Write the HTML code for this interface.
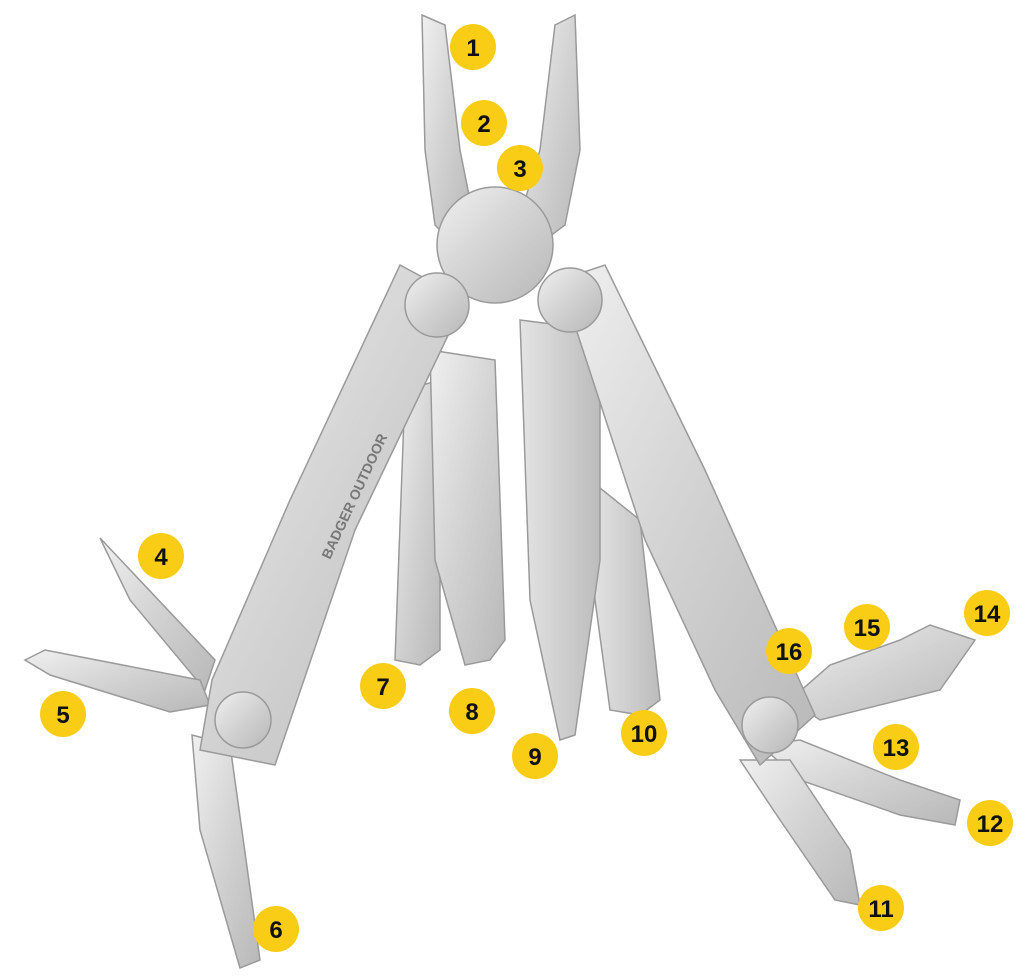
<!DOCTYPE html>
<html><head><meta charset="utf-8"><style>
html,body{margin:0;padding:0;background:#fff;width:1024px;height:980px;overflow:hidden}
svg{display:block}
.n{font-family:"Liberation Sans Narrow","Liberation Sans",sans-serif;font-weight:bold;font-size:24px;fill:#111;text-anchor:middle}
</style></head><body>
<svg width="1024" height="980" viewBox="0 0 1024 980" xmlns="http://www.w3.org/2000/svg">
<defs>
<linearGradient id="g" x1="0" y1="0" x2="1" y2="1">
<stop offset="0" stop-color="#f0f0f0"/><stop offset="0.5" stop-color="#d2d2d2"/><stop offset="1" stop-color="#b8b8b8"/>
</linearGradient>
<linearGradient id="g2" x1="0" y1="0" x2="1" y2="0">
<stop offset="0" stop-color="#e4e4e4"/><stop offset="1" stop-color="#bcbcbc"/>
</linearGradient>
</defs>
<g stroke="#9a9a9a" stroke-width="1.5" fill="url(#g)">
<polygon points="100,538 215,660 205,690 130,600"/>
<polygon points="25,660 45,650 200,680 210,705 170,712 50,675"/>
<polygon points="192,735 230,745 260,960 240,968 200,830"/>
<polygon points="790,700 830,665 900,640 930,625 975,640 940,690 820,720"/>
<polygon points="760,745 800,740 900,780 960,800 955,825 900,815 800,780"/>
<polygon points="740,760 790,760 850,850 860,905 835,900 780,820"/>
<polygon points="405,390 440,380 440,650 420,665 395,660"/>
<polygon points="430,350 495,360 505,640 490,660 465,665 435,560"/>
<polygon points="590,480 640,520 660,700 640,715 610,710 595,600" fill="url(#g2)"/>
<polygon points="520,320 600,330 600,560 575,735 560,740 530,600" fill="url(#g2)"/>
<polygon points="400,265 465,300 355,530 275,765 200,750 212,680 290,500"/>
<polygon points="560,280 605,265 705,470 815,715 760,765 715,690 645,540"/>
<polygon points="422,15 445,25 460,150 470,200 450,240 435,225 425,150"/>
<polygon points="575,15 555,25 540,150 525,200 545,240 565,225 580,150"/>
<circle cx="495" cy="245" r="58"/>
<circle cx="437" cy="305" r="32"/>
<circle cx="570" cy="300" r="32"/>
<circle cx="243" cy="720" r="28"/>
<circle cx="770" cy="725" r="28"/>
</g>
<text x="330" y="560" transform="rotate(-65 330 560)" font-family="Liberation Sans,sans-serif" font-size="14" font-weight="bold" fill="#777">BADGER OUTDOOR</text>
<g fill="#f9cd15">
<circle cx="473" cy="47" r="23"/><circle cx="484" cy="123" r="23"/><circle cx="520" cy="168" r="23"/>
<circle cx="161" cy="556" r="23"/><circle cx="63" cy="714" r="23"/><circle cx="276" cy="929" r="23"/>
<circle cx="383" cy="686" r="23"/><circle cx="472" cy="711" r="23"/><circle cx="535" cy="756" r="23"/>
<circle cx="644" cy="733" r="23"/><circle cx="881" cy="908" r="23"/><circle cx="990" cy="823" r="23"/>
<circle cx="896" cy="747" r="23"/><circle cx="987" cy="613" r="23"/><circle cx="867" cy="627" r="23"/>
<circle cx="789" cy="651" r="23"/>
</g>
<g class="n">
<text x="473" y="56">1</text><text x="484" y="132">2</text><text x="520" y="177">3</text>
<text x="161" y="565">4</text><text x="63" y="723">5</text><text x="276" y="938">6</text>
<text x="383" y="695">7</text><text x="472" y="720">8</text><text x="535" y="765">9</text>
<text x="644" y="742">10</text><text x="881" y="917">11</text><text x="990" y="832">12</text>
<text x="896" y="756">13</text><text x="987" y="622">14</text><text x="867" y="636">15</text>
<text x="789" y="660">16</text>
</g>
</svg>
</body></html>
